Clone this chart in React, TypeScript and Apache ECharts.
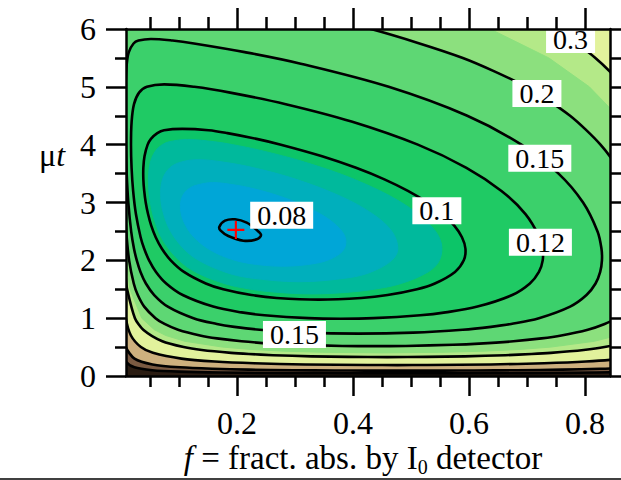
import React, { useEffect, useRef } from 'react';
import * as echarts from 'echarts';

// ---- axis ranges & ticks ----
const X_MIN = 0.0086;
const X_MAX = 0.843;
const Y_MIN = 0;
const Y_MAX = 6;
const X_MAJOR = [0.2, 0.4, 0.6, 0.8];
const X_MINOR = [0.05, 0.1, 0.15, 0.25, 0.3, 0.35, 0.45, 0.5, 0.55, 0.65, 0.7, 0.75];

// ---- contour lines: [f, mu*t] ----
const LEVEL_2 = [[0.0032,0.4],[0.0082,0.25],[0.0231,0.15],[0.0538,0.1],[0.1009,0.075],[0.1715,0.06],[0.2893,0.05],[0.4226,0.046],[0.494,0.0455],[0.566,0.046],[0.7004,0.05],[0.8198,0.06],[0.892,0.075],[0.9409,0.1],[0.9731,0.15]];
const LEVEL_1 = [[0.0032,0.8],[0.0082,0.5],[0.0232,0.3],[0.0542,0.2],[0.1018,0.15],[0.157,0.125],[0.22,0.11],[0.297,0.1],[0.3684,0.095],[0.4207,0.093],[0.4885,0.0922],[0.5565,0.093],[0.6092,0.095],[0.6817,0.1],[0.7606,0.11],[0.8258,0.125],[0.8838,0.15],[0.9346,0.2],[0.9689,0.3]];
const LEVEL_05 = [[0.00204,2.0],[0.00366,1.5],[0.00828,1.0],[0.0171,0.7],[0.0343,0.5],[0.055,0.4],[0.1041,0.3],[0.1617,0.25],[0.2295,0.22],[0.3176,0.2],[0.425,0.19],[0.4764,0.1889],[0.528,0.19],[0.6375,0.2],[0.7294,0.22],[0.8015,0.25],[0.8644,0.3],[0.9201,0.4],[0.9447,0.5]];
const LEVEL_03 = [[0.000825,6.5],[0.00084,6.0],[0.00104,5.0],[0.00152,4.0],[0.00263,3.0],[0.00587,2.0],[0.00813,1.7],[0.0105,1.5],[0.024,1.0],[0.0383,0.8],[0.0712,0.6],[0.108,0.5],[0.1393,0.45],[0.1898,0.4],[0.2202,0.38],[0.262,0.36],[0.3282,0.34],[0.3917,0.33],[0.459,0.3266],[0.5275,0.33],[0.593,0.34],[0.6628,0.36],[0.7079,0.38],[0.741,0.4],[0.7976,0.45],[0.8336,0.5],[0.8774,0.6],[0.9186,0.8],[0.9373,1.0],[0.9547,1.5],[0.9571,1.7],[0.9582,2.0],[0.9496,3.0],[0.9231,4.0],[0.8663,5.0],[0.8178,5.5],[0.7477,6.0],[0.6455,6.5]];
const LEVEL_025 = [[0.00157,6.5],[0.00141,6.0],[0.00145,5.5],[0.0016,5.0],[0.00187,4.5],[0.0029,3.5],[0.00554,2.5],[0.00862,2.0],[0.0154,1.5],[0.0357,1.0],[0.0575,0.8],[0.0773,0.7],[0.1103,0.6],[0.1749,0.5],[0.2226,0.46],[0.28,0.43],[0.3472,0.41],[0.45,0.3995],[0.555,0.41],[0.626,0.43],[0.688,0.46],[0.741,0.5],[0.8157,0.6],[0.8556,0.7],[0.8806,0.8],[0.9087,1.0],[0.9344,1.5],[0.9396,2.0],[0.9364,2.5],[0.912,3.5],[0.8557,4.5],[0.8074,5.0],[0.7375,5.5],[0.6364,6.0],[0.4891,6.5]];
const LEVEL_02 = [[0.0084,6.6],[0.0049,6.4],[0.00326,6.0],[0.00284,5.5],[0.0029,5.0],[0.00323,4.5],[0.00383,4.0],[0.00479,3.5],[0.00635,3.0],[0.009,2.5],[0.01398,2.0],[0.02198,1.6],[0.02895,1.4],[0.04,1.2],[0.0594,1.0],[0.075,0.9],[0.0983,0.8],[0.1361,0.7],[0.1652,0.65],[0.2078,0.6],[0.2615,0.56],[0.3034,0.54],[0.3814,0.52],[0.4358,0.5164],[0.4909,0.52],[0.5723,0.54],[0.6173,0.56],[0.6765,0.6],[0.7251,0.65],[0.7591,0.7],[0.8047,0.8],[0.8338,0.9],[0.8537,1.0],[0.8784,1.2],[0.8922,1.4],[0.8998,1.6],[0.9051,2.0],[0.9005,2.5],[0.8863,3.0],[0.8625,3.5],[0.8266,4.0],[0.7742,4.5],[0.6986,5.0],[0.5893,5.5],[0.4308,6.0],[0.2525,6.4],[0.1384,6.6]];
const LEVEL_015 = [[0.0515,5.827],[0.0301,5.8],[0.0216,5.75],[0.01346,5.6],[0.00996,5.4],[0.0078,5.0],[0.00745,4.5],[0.00815,4.0],[0.00975,3.5],[0.0126,3.0],[0.0175,2.5],[0.0224,2.2],[0.0272,2.0],[0.0336,1.8],[0.0429,1.6],[0.0572,1.4],[0.0807,1.2],[0.1249,1.0],[0.1652,0.9],[0.1953,0.85],[0.2389,0.8],[0.3177,0.75],[0.4094,0.7328],[0.5036,0.75],[0.5889,0.8],[0.6378,0.85],[0.6726,0.9],[0.7205,1.0],[0.7743,1.2],[0.8025,1.4],[0.8181,1.6],[0.8261,1.8],[0.8291,2.0],[0.8283,2.2],[0.8215,2.5],[0.7966,3.0],[0.7543,3.5],[0.6903,4.0],[0.5969,4.5],[0.4615,5.0],[0.3098,5.4],[0.2133,5.6],[0.1258,5.75],[0.0889,5.8]];
const LEVEL_012 = [[0.0745,5.043],[0.0446,5.0],[0.0311,4.9],[0.0224,4.7],[0.0183,4.4],[0.0172,4.0],[0.0182,3.6],[0.0209,3.2],[0.0257,2.8],[0.0338,2.4],[0.04,2.2],[0.0484,2.0],[0.0603,1.8],[0.0779,1.6],[0.1064,1.4],[0.1589,1.2],[0.2078,1.1],[0.2473,1.05],[0.323,1.0],[0.379,0.99],[0.4354,1.0],[0.5158,1.05],[0.5593,1.1],[0.6145,1.2],[0.6744,1.4],[0.7049,1.6],[0.7205,1.8],[0.727,2.0],[0.7268,2.2],[0.7215,2.4],[0.6973,2.8],[0.6559,3.2],[0.5955,3.6],[0.5117,4.0],[0.3974,4.4],[0.284,4.7],[0.1882,4.9],[0.1263,5.0]];
const LEVEL_010 = [[0.1056,4.273],[0.0742,4.25],[0.0626,4.2],[0.0516,4.1],[0.0459,4.0],[0.0405,3.8],[0.0385,3.6],[0.0385,3.4],[0.04,3.2],[0.0426,3.0],[0.0466,2.8],[0.0521,2.6],[0.0598,2.4],[0.0705,2.2],[0.0857,2.0],[0.1085,1.8],[0.1462,1.6],[0.1763,1.5],[0.2249,1.4],[0.2682,1.35],[0.3407,1.321],[0.4143,1.35],[0.4595,1.4],[0.5103,1.5],[0.5411,1.6],[0.5758,1.8],[0.5909,2.0],[0.5938,2.2],[0.5878,2.4],[0.5745,2.6],[0.5544,2.8],[0.528,3.0],[0.4946,3.2],[0.4541,3.4],[0.4052,3.6],[0.3467,3.8],[0.2757,4.0],[0.2336,4.1],[0.1834,4.2],[0.151,4.25]];
const LEVEL_0096 = [[0.1145,4.09],[0.0829,4.05],[0.0713,4.0],[0.06,3.9],[0.0508,3.7],[0.0473,3.4],[0.0505,3.0],[0.0609,2.6],[0.0752,2.3],[0.1001,2.0],[0.1281,1.8],[0.1777,1.6],[0.224,1.5],[0.2657,1.45],[0.33,1.42],[0.3934,1.45],[0.436,1.5],[0.483,1.6],[0.5295,1.8],[0.549,2.0],[0.552,2.3],[0.534,2.6],[0.4835,3.0],[0.4022,3.4],[0.3161,3.7],[0.2408,3.9],[0.1927,4.0],[0.1616,4.05]];
const LEVEL_009 = [[0.1335,3.74],[0.1039,3.7],[0.0842,3.6],[0.0716,3.4],[0.0684,3.1],[0.0735,2.8],[0.0856,2.5],[0.1082,2.2],[0.1339,2.0],[0.1788,1.8],[0.2203,1.7],[0.307,1.63],[0.3927,1.7],[0.4316,1.8],[0.4668,2.0],[0.4772,2.2],[0.467,2.5],[0.434,2.8],[0.3801,3.1],[0.302,3.4],[0.2291,3.6],[0.1757,3.7]];
const LEVEL_0085 = [[0.158,3.345],[0.1301,3.3],[0.1187,3.25],[0.1083,3.15],[0.1028,3.0],[0.104,2.8],[0.1116,2.6],[0.1259,2.4],[0.1505,2.2],[0.1818,2.05],[0.2189,1.95],[0.279,1.898],[0.3367,1.95],[0.3668,2.05],[0.3848,2.2],[0.3864,2.4],[0.3717,2.6],[0.3439,2.8],[0.3028,3.0],[0.2608,3.15],[0.2234,3.25],[0.1979,3.3]];
const LEVEL_008 = [[0.1696,2.582],[0.1793,2.686],[0.1966,2.709],[0.2167,2.651],[0.234,2.525],[0.2414,2.438],[0.234,2.363],[0.2109,2.34],[0.185,2.421],[0.1718,2.513]];

const OPTIMUM = [0.198, 2.525];

const LABEL_TEXT = ['0.3', '0.2', '0.15', '0.12', '0.1', '0.08', '0.15'];
const LABEL_F = [0.775, 0.717, 0.722, 0.723, 0.5445, 0.277, 0.299];
const LABEL_MU = [5.82, 4.885, 3.765, 2.314, 2.857, 2.779, 0.718];

// ---- fill bands (outermost first) ----
const FILLS = [
  { pts: LEVEL_2, closed: false, color: '#7a5a42' },
  { pts: LEVEL_1, closed: false, color: '#cdb07e' },
  { pts: LEVEL_05, closed: false, color: '#e2f29c' },
  { pts: LEVEL_03, closed: false, color: '#b4e988' },
  { pts: LEVEL_025, closed: false, color: '#8ce07e' },
  { pts: LEVEL_02, closed: false, color: '#5ed774' },
  { pts: LEVEL_015, closed: true, color: '#3bd06b' },
  { pts: LEVEL_012, closed: true, color: '#1fca64' },
  { pts: LEVEL_010, closed: true, color: '#0cc568' },
  { pts: LEVEL_0096, closed: true, color: '#00b99c' },
  { pts: LEVEL_009, closed: true, color: '#00afbc' },
  { pts: LEVEL_0085, closed: true, color: '#00a6d7' },
];

const LINES = [
  { pts: LEVEL_2, closed: false },
  { pts: LEVEL_1, closed: false },
  { pts: LEVEL_05, closed: false },
  { pts: LEVEL_03, closed: false },
  { pts: LEVEL_02, closed: false },
  { pts: LEVEL_015, closed: true },
  { pts: LEVEL_012, closed: true },
  { pts: LEVEL_010, closed: true },
  { pts: LEVEL_008, closed: true },
];

const FONT = 'Liberation Serif';

export default function App() {
  const ref = useRef<HTMLDivElement>(null);
  useEffect(() => {
    if (!ref.current) return;
    const chart = echarts.init(ref.current, undefined, { renderer: 'svg' });
    const black = { color: '#000', width: 2.5 };
    const baseX = (position: string, ticks: number[], len: number, showLine: boolean, labels: boolean) => ({
      type: 'value', position, min: X_MIN, max: X_MAX, z: 10,
      axisLine: { show: showLine, onZero: false, lineStyle: black },
      axisTick: { show: true, customValues: ticks, length: len, lineStyle: black },
      axisLabel: labels
        ? { show: true, customValues: X_MAJOR, formatter: (v: number) => v.toFixed(1), fontSize: 32, fontFamily: FONT, color: '#000', margin: 31 }
        : { show: false },
      splitLine: { show: false },
    });
    const baseY = (position: string, labels: boolean) => ({
      type: 'value', position, min: Y_MIN, max: Y_MAX, interval: 1, z: 10,
      axisLine: { show: true, onZero: false, lineStyle: black },
      axisTick: { show: true, length: 20, lineStyle: black },
      minorTick: { show: true, splitNumber: 2, length: 11, lineStyle: black },
      axisLabel: labels ? { show: true, fontSize: 32, fontFamily: FONT, color: '#000', margin: 30 } : { show: false },
      splitLine: { show: false },
      minorSplitLine: { show: false },
    });

    const closeOpen = (pts: number[][]) => {
      const first = pts[0];
      const last = pts[pts.length - 1];
      return [...pts, [X_MAX + 0.3, last[1]], [X_MAX + 0.3, Y_MAX + 2], [X_MIN - 0.3, Y_MAX + 2], [X_MIN - 0.3, first[1]]];
    };

    chart.setOption({
      animation: false,
      grid: { left: 126, top: 29, width: 484, height: 347, show: true, backgroundColor: '#2a1c12', borderWidth: 0 },
      xAxis: [
        baseX('bottom', X_MAJOR, 20, true, true),
        baseX('bottom', X_MINOR, 11, false, false),
        baseX('top', X_MAJOR, 21, true, false),
        baseX('top', X_MINOR, 12, false, false),
      ],
      yAxis: [baseY('left', true), baseY('right', false)],
      graphic: [
        {
          type: 'text', left: 39, top: 139, z: 20,
          style: {
            text: '{a|μ}{b|t}',
            rich: {
              a: { fontSize: 32, fontFamily: FONT, fill: '#000' },
              b: { fontSize: 32, fontFamily: FONT, fontStyle: 'italic', fill: '#000' },
            },
          },
        },
        {
          type: 'text', z: 20,
          style: {
            x: 363, y: 458, align: 'center', verticalAlign: 'middle',
            text: '{it|f}{n| = fract. abs. by I}{sub|0}{n| detector}',
            rich: {
              it: { fontSize: 33, fontFamily: FONT, fontStyle: 'italic', fill: '#000', lineHeight: 33 },
              n: { fontSize: 33, fontFamily: FONT, fill: '#000', lineHeight: 33 },
              sub: { fontSize: 20, fontFamily: FONT, fill: '#000', lineHeight: 20, padding: [15, 0, 0, 0], verticalAlign: 'top' },
            },
          },
        },
        { type: 'line', z: 20, shape: { x1: 0, y1: 479, x2: 621, y2: 479 }, style: { stroke: '#000', lineWidth: 1.5 } },
      ],
      series: [
        {
          type: 'custom', coordinateSystem: 'cartesian2d', xAxisIndex: 0, yAxisIndex: 0, clip: true, silent: true, z: 1,
          data: FILLS.map(() => [0.4, 3]),
          renderItem: (params: any, api: any) => {
            const fl = FILLS[params.dataIndex];
            const pts = fl.closed ? fl.pts : closeOpen(fl.pts);
            return {
              type: 'polygon',
              shape: { points: pts.map((p) => api.coord(p)), smooth: fl.closed ? 0.35 : 0 },
              style: { fill: fl.color, stroke: fl.color, lineWidth: 1 },
            };
          },
        },
        {
          type: 'custom', coordinateSystem: 'cartesian2d', xAxisIndex: 0, yAxisIndex: 0, clip: true, silent: true, z: 2,
          data: LINES.map(() => [0.4, 3]),
          renderItem: (params: any, api: any) => {
            const ln = LINES[params.dataIndex];
            return {
              type: ln.closed ? 'polygon' : 'polyline',
              shape: { points: ln.pts.map((p) => api.coord(p)), smooth: ln.closed ? 0.35 : 0.25 },
              style: { fill: 'none', stroke: '#000', lineWidth: 2.6 },
            };
          },
        },
        {
          type: 'scatter', xAxisIndex: 0, yAxisIndex: 0, silent: true, z: 5,
          symbolSize: 1, itemStyle: { color: '#ffffff', opacity: 1 },
          data: LABEL_TEXT.map((t, i) => ({ name: t, value: [LABEL_F[i], LABEL_MU[i]] })),
          label: {
            show: true, position: 'inside', formatter: (p: any) => p.name, opacity: 1,
            backgroundColor: '#ffffff', color: '#000', fontSize: 28, fontFamily: FONT,
            lineHeight: 26, padding: [1, 7, 0, 7],
          },
        },
        {
          type: 'scatter', xAxisIndex: 0, yAxisIndex: 0, silent: true, z: 6,
          symbol: 'path://M7,0h2v7h7v2h-7v7h-2v-7h-7v-2h7z', symbolSize: [17, 18],
          itemStyle: { color: '#ff0000', opacity: 1 },
          data: [OPTIMUM],
        },
      ],
    });
    return () => chart.dispose();
  }, []);
  return <div ref={ref} style={{ position: 'absolute', left: 0, top: 0, width: 621, height: 480 }} />;
}
